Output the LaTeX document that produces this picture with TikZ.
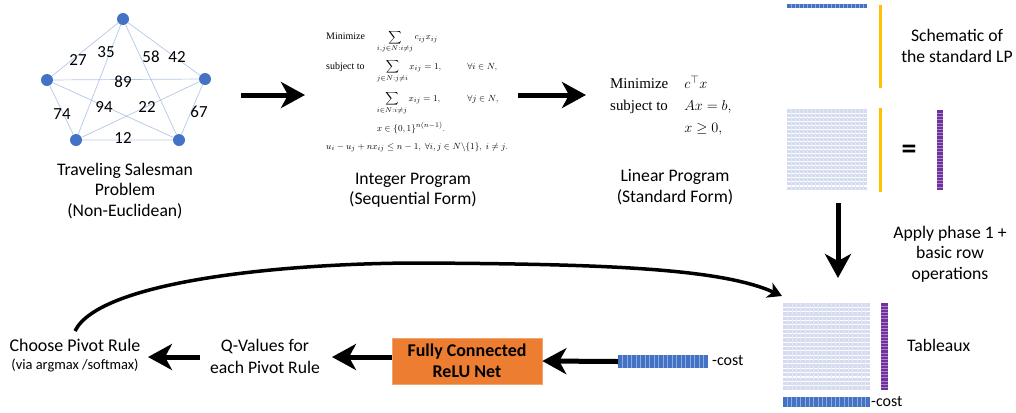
\documentclass[tikz,border=0pt]{standalone}
\usepackage{amsmath}
\usepackage[no-math]{fontspec}
\setmainfont{Carlito}
\newfontfamily\paperfont{Liberation Serif}
\usetikzlibrary{arrows.meta,calc}

\definecolor{nodeblue}{HTML}{4472C4}
\definecolor{edgeblue}{HTML}{B4C7E7}
\definecolor{cellblue}{HTML}{8FAADC}
\definecolor{gridbg}{HTML}{D6DCEF}
\definecolor{lpyellow}{HTML}{FFC000}
\definecolor{lppurple}{HTML}{7030A0}
\definecolor{netorange}{HTML}{ED7D31}

% horizontal / vertical divider lines inside a rectangular node
\newcommand\mkrows[3]{\foreach \k in {1,...,#2}{\draw[#3] ($(#1.north west)!{\k/(#2+1)}!(#1.south west)$) -- ($(#1.north east)!{\k/(#2+1)}!(#1.south east)$);}}
\newcommand\mkcols[3]{\foreach \k in {1,...,#2}{\draw[#3] ($(#1.north west)!{\k/(#2+1)}!(#1.north east)$) -- ($(#1.south west)!{\k/(#2+1)}!(#1.south east)$);}}
% text size used for the words of the programs
\newcommand\iptext[1]{\text{\fontsize{10}{12}\selectfont #1}}

\tikzset{
  vertex/.style={circle, fill=nodeblue, minimum size=12bp, inner sep=0},
  edge/.style={draw=edgeblue, line width=0.7bp},
  wlbl/.style={font=\fontsize{17}{20}\selectfont, inner sep=0},
  lbl/.style={font=\fontsize{17.7}{20.5}\selectfont, align=center, inner sep=0},
  bigarrow/.style={line width=5bp, -{Stealth[length=24bp,width=26bp,inset=7bp]}},
  curvearrow/.style={line width=3.5bp, -{Stealth[length=14bp,width=16bp,inset=4bp]}},
  bar/.style={inner sep=0, outer sep=0, draw=none},
  costbar/.style={bar, fill=nodeblue},
  gridblock/.style={bar, fill=gridbg},
  ybar/.style={bar, fill=lpyellow, minimum width=3bp},
  pbar/.style={bar, fill=lppurple},
  cellv/.style={draw=cellblue, line width=0.5bp},
  gridrow/.style={draw=white, line width=1.1bp},
  gridcol/.style={draw=white!35!gridbg, line width=0.4bp},
  prow/.style={draw=lppurple!60!white, line width=0.3bp},
}

\begin{document}
\begin{tikzpicture}[x=1bp,y=-1bp]
\useasboundingbox (0,0) rectangle (1016,412);

% ---- travelling salesman graph ----
\node[vertex] (v1) at (123,19) {};
\node[vertex] (v2) at (205,79) {};
\node[vertex] (v3) at (179,140) {};
\node[vertex] (v4) at (76,140) {};
\node[vertex] (v5) at (47,80) {};
\draw[edge] (v1) -- (v5) (v1) -- (v4) (v1) -- (v3) (v1) -- (v2)
            (v5) -- (v2) (v5) -- (v3) (v2) -- (v4) (v5) -- (v4)
            (v2) -- (v3) (v4) -- (v3);
\node[wlbl] (w27) at (78,60) {27};
\node[wlbl] (w35) at (106,52) {35};
\node[wlbl] (w58) at (151,57) {58};
\node[wlbl] (w42) at (177,57) {42};
\node[wlbl] (w89) at (123,82) {89};
\node[wlbl] (w94) at (104,107) {94};
\node[wlbl] (w22) at (147,107) {22};
\node[wlbl] (w74) at (62,114) {74};
\node[wlbl] (w67) at (199,112) {67};
\node[wlbl] (w12) at (123,138) {12};
\node[lbl] (tsp) at (125,191) {Traveling Salesman\\Problem\\(Non-Euclidean)};

% ---- integer program ----
\node[inner sep=0, anchor=north west] (ip) at (326,30) {\paperfont\fontsize{9.3}{11}\selectfont
$\begin{array}{@{}l@{\hspace{12bp}}l@{\hspace{22bp}}l@{}}
\iptext{Minimize} & \displaystyle\sum_{i,j\in N:i\neq j} c_{ij}x_{ij} & \\[17bp]
\iptext{subject to} & \displaystyle\sum_{j\in N:j\neq i} x_{ij}=1, & \forall i\in N,\\[19bp]
 & \displaystyle\sum_{i\in N:i\neq j} x_{ij}=1, & \forall j\in N,\\[18bp]
 & x\in\{0,1\}^{n(n-1)}. & \\[7bp]
\multicolumn{3}{@{}l@{}}{u_i-u_j+nx_{ij}\le n-1,\ \forall i,j\in N\backslash\{1\},\ i\neq j.}
\end{array}$};
\node[lbl] (iplbl) at (413,190) {Integer Program\\(Sequential Form)};

% ---- linear program ----
\node[inner sep=0, anchor=north west] (lp) at (610,73) {\paperfont\fontsize{15}{22}\selectfont
$\begin{array}{@{}l@{\hspace{16bp}}l@{}}
\text{Minimize} & c^{\top}x\\
\text{subject to} & Ax=b,\\
 & x\ge 0,
\end{array}$};
\node[lbl] (lplbl) at (675,187) {Linear Program\\(Standard Form)};

% ---- schematic of the standard LP ----
\node[costbar, minimum width=80bp, minimum height=4bp] (cvec) at (827,6) {};
\mkcols{cvec}{19}{cellv}
\node[ybar, minimum height=83bp] (xtop) at (880.5,46.5) {};
\node[lbl] (schem) at (957,46) {Schematic of\\the standard LP};
\node[gridblock, minimum width=80bp, minimum height=81bp] (amat) at (827,149.5) {};
\mkrows{amat}{19}{gridrow}
\mkcols{amat}{19}{gridcol}
\node[ybar, minimum height=84bp] (xlow) at (880.5,150) {};
\node[inner sep=0, font=\fontsize{30}{30}\selectfont\bfseries] (eq) at (909,152) {=};
\node[pbar, minimum width=6bp, minimum height=80bp] (bvec) at (940,150) {};
\mkrows{bvec}{24}{prow}

% ---- tableau ----
\node[lbl] (phase) at (950,254) {Apply phase 1 +\\basic row\\operations};
\node[gridblock, minimum width=87bp, minimum height=87bp] (tab) at (826.5,346.5) {};
\mkrows{tab}{19}{gridrow}
\mkcols{tab}{19}{gridcol}
\node[pbar, minimum width=7bp, minimum height=87bp] (tabb) at (884.5,346.5) {};
\mkrows{tabb}{27}{prow}
\node[lbl, anchor=west] (tablbl) at (907,345) {Tableaux};
\node[lbl, anchor=west, font=\fontsize{16}{18}\selectfont] (tabclbl) at (871,402) {-cost};
\node[costbar, minimum width=87bp, minimum height=10bp] (tabc) at (826.5,402) {};
\mkcols{tabc}{19}{cellv}

% ---- network path ----
\node[costbar, minimum width=90bp, minimum height=13bp] (inp) at (663,361.5) {};
\mkcols{inp}{19}{cellv}
\node[lbl, anchor=west, font=\fontsize{16}{18}\selectfont] (inplbl) at (712,361) {-cost};
\node[fill=netorange, draw=netorange!70!white, line width=0.6bp, minimum width=150bp, minimum height=46bp,
      align=center, inner sep=0, font=\fontsize{18}{21}\selectfont\bfseries] (net) at (467,361) {Fully Connected\\ReLU Net};
\node[lbl, font=\fontsize{17.7}{22}\selectfont] (qval) at (265,356) {Q-Values for\\each Pivot Rule};
\node[lbl, font=\fontsize{18}{20}\selectfont] (choose) at (75,345) {Choose Pivot Rule};
\node[inner sep=0, font=\fontsize{14.5}{16}\selectfont] (via) at (75,365) {(via argmax /softmax)};

% ---- connectors ----
\coordinate (a1s) at (241,95);
\coordinate (a1e) at (305,95);
\coordinate (a2s) at (518,95);
\coordinate (a2e) at (586,95);
\draw[bigarrow] (a1s) -- (a1e);
\draw[bigarrow] (a2s) -- (a2e);
\coordinate (a3s) at (838,203);
\coordinate (a3e) at (838,278);
\draw[bigarrow] (a3s) -- (a3e);
\draw[bigarrow] (inp.west) -- (net.east);
\coordinate (n1s) at ($(net.west)+(0,-4)$);
\coordinate (n1e) at (332,357);
\draw[bigarrow] (n1s) -- (n1e);
\coordinate (n2s) at (200,357);
\coordinate (n2e) at (148,357);
\draw[bigarrow] (n2s) -- (n2e);
\coordinate (cs) at (75,331);
\coordinate (ce) at (782,296);
\draw[curvearrow] (cs) .. controls (100,280) and (290,263) .. (420,263)
                       .. controls (600,264) and (720,268) .. (ce);
\end{tikzpicture}
\end{document}
